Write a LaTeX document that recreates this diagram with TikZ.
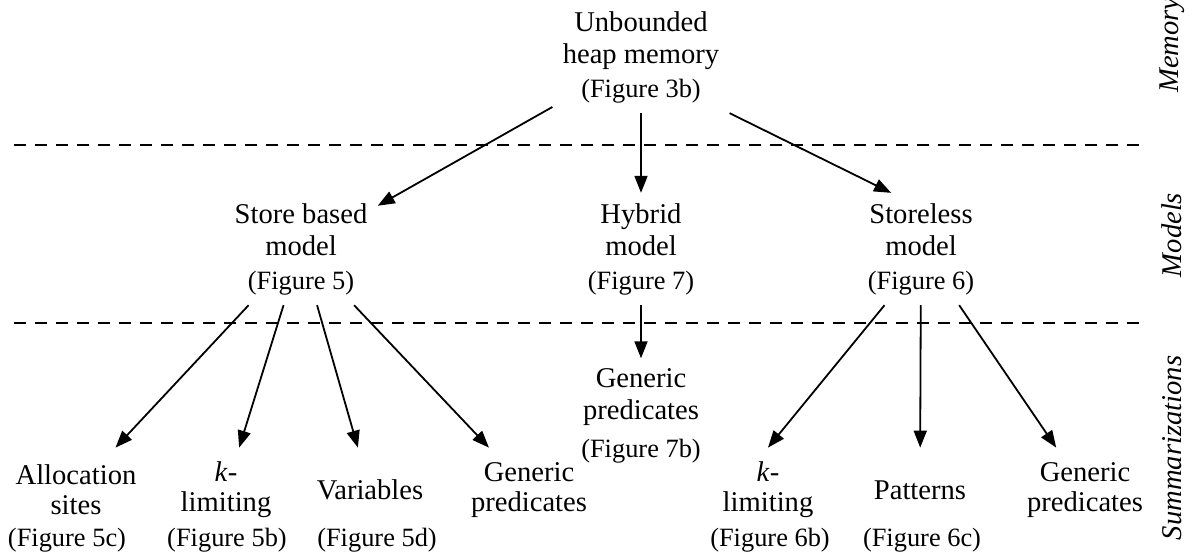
\documentclass[tikz,border=0pt]{standalone}
\usepackage{fontspec}
\setmainfont{Liberation Serif}
\usetikzlibrary{arrows.meta}
\newcommand{\figfont}{\fontsize{13.2}{16}\selectfont}

\begin{document}
\begin{tikzpicture}[x=0.5pt,y=-0.5pt,
  every node/.style={font=\fontsize{14.3}{16}\selectfont, align=center, inner sep=5pt},
  arr/.style={-{Triangle[length=8.5pt,width=6.5pt]}, line width=0.9pt},
  sep/.style={dash pattern=on 6pt off 4.5pt, line width=0.9pt},
  leaf/.style={font=\fontsize{14.3}{15}\selectfont, minimum height=42pt},
  side/.style={rotate=90, font=\fontsize{14.3}{16}\selectfont\itshape}]
\useasboundingbox (0,0) rectangle (1193,554);

%%% Level separators
\draw[sep] (14,145) -- (1143,145);
\draw[sep] (14,323) -- (1143,323);

%%% Memory
\node (heap) at (641,57) {Unbounded\\heap memory\\[1pt]{\figfont (Figure 3b)}};

%%% Models
\node (store) at (301,249) {Store based\\model\\[1pt]{\figfont (Figure 5)}};
\node (hybrid) at (641,249) {Hybrid\\model\\[1pt]{\figfont (Figure 7)}};
\node (storeless) at (921,249) {Storeless\\model\\[1pt]{\figfont (Figure 6)}};

%%% Summarizations
\node (hybgen) at (641,416) {Generic\\predicates\\[3pt]{\figfont (Figure 7b)}};

\node[leaf] (alloc) at (76,490) {Allocation\\sites};
\node[leaf] (klim) at (226,490) {\textit{k}-\\limiting};
\node[leaf] (vars) at (370,490) {Variables};
\node[leaf] (stgen) at (529,490) {Generic\\predicates};
\node[leaf] (klimb) at (768,490) {\textit{k}-\\limiting};
\node[leaf] (pat) at (920,490) {Patterns};
\node[leaf] (slgen) at (1085,490) {Generic\\predicates};

\node[font=\figfont] (fig5c) at (67,540) {(Figure 5c)};
\node[font=\figfont] (fig5b) at (227,540) {(Figure 5b)};
\node[font=\figfont] (fig5d) at (377,540) {(Figure 5d)};
\node[font=\figfont] (fig6b) at (770,540) {(Figure 6b)};
\node[font=\figfont] (fig6c) at (922,540) {(Figure 6c)};

%%% Level names
\node[side] (lmem) at (1172,45) {Memory};
\node[side] (lmod) at (1172,235) {Models};
\node[side] (lsum) at (1172,448) {Summarizations};

%%% Edges
\draw[arr] (heap) -- (store);
\draw[arr] (heap) -- (hybrid);
\draw[arr] (heap.south east) -- (storeless.118);

\draw[arr] (store) -- (alloc);
\draw[arr] (store) -- (klim);
\draw[arr] (store) -- (vars);
\draw[arr] (store) -- (stgen);

\draw[arr] (hybrid) -- (hybgen);

\draw[arr] (storeless.237) -- (klimb.north);
\draw[arr] (storeless) -- (pat);
\draw[arr] (storeless) -- (slgen);
\end{tikzpicture}
\end{document}
